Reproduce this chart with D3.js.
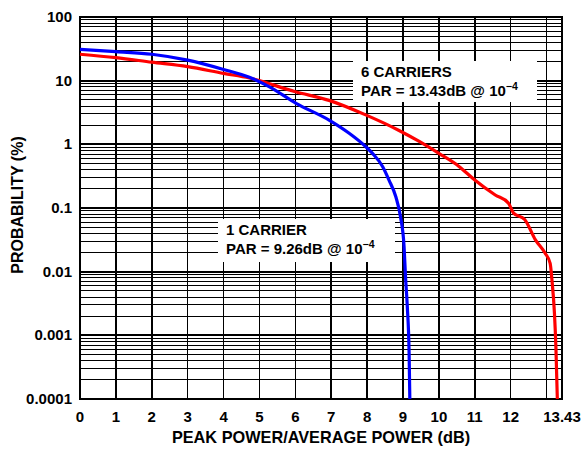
<!DOCTYPE html>
<html>
<head>
<meta charset="utf-8">
<script src="https://cdn.jsdelivr.net/npm/d3@7"></script>
<style>
  body { margin: 0; background: #fff; }
  text { font-family: "Liberation Sans", Arial, sans-serif; font-weight: bold; fill: #000; }
</style>
</head>
<body>
<div id="chart"></div>
<script>
// 1 carrier CCDF: [peak/avg dB, probability %]
const oneCarrier = [
    [0, 31], [1, 28.5], [2, 26], [3, 21], [4, 15], [4.72, 11.3], [5.28, 8.0],
    [6.02, 4.4], [6.94, 2.4], [7.5, 1.49], [7.96, 0.92], [8.15, 0.72], [8.43, 0.45],
    [8.61, 0.275], [8.8, 0.15], [8.93, 0.073], [9.03, 0.0245], [9.07, 0.0083],
    [9.12, 0.0028], [9.17, 0.00052], [9.19, 0.0001]
];
// 6 carriers CCDF
const sixCarriers = [
    [0, 26], [1, 23], [2, 19.5], [3, 16.6], [4, 13], [4.72, 11], [6, 6.7],
    [6.94, 4.9], [7.96, 2.9], [8.89, 1.65], [9.44, 1.12], [10, 0.72], [10.56, 0.45],
    [11, 0.275], [11.57, 0.16], [11.94, 0.119], [12.08, 0.083], [12.39, 0.066],
    [12.69, 0.0316], [12.96, 0.0195], [13.1, 0.0135], [13.15, 0.0074],
    [13.22, 0.0022], [13.26, 0.00066], [13.3, 0.0001]
];
const xTicks = [0, 1, 2, 3, 4, 5, 6, 7, 8, 9, 10, 11, 12, 13.43];
const xGrid = [1, 2, 3, 4, 5, 6, 7, 8, 9, 10, 11, 12, 13];
const yTicks = [0.0001, 0.001, 0.01, 0.1, 1, 10, 100];
const yTickLabels = ["0.0001", "0.001", "0.01", "0.1", "1", "10", "100"];

const width = 581, height = 449;
const margin = { top: 17, right: 19, bottom: 50, left: 80 };

const svg = d3.select("#chart").append("svg")
    .attr("width", width)
    .attr("height", height);

const x = d3.scaleLinear().domain([0, 13.43]).range([margin.left, width - margin.right]);
const y = d3.scaleLog().domain([0.0001, 100]).range([height - margin.bottom, margin.top]);

// minor + major horizontal grid lines
let yGrid = [];
for (let d = 0.0001; d < 100; d *= 10) {
    for (let k = 1; k < 10; k++) yGrid.push(+(d * k).toPrecision(3));
}
svg.append("g")
    .selectAll("line")
    .data(yGrid)
    .enter()
    .append("line")
    .attr("x1", x.range()[0]).attr("x2", x.range()[1])
    .attr("y1", d => y(d)).attr("y2", d => y(d))
    .attr("shape-rendering", "crispEdges")
    .style("stroke", "#000")
    .style("stroke-width", (d, i) => i % 9 === 0 ? 2 : 1);

svg.append("g")
    .selectAll("line")
    .data(xGrid)
    .enter()
    .append("line")
    .attr("x1", d => x(d)).attr("x2", d => x(d))
    .attr("y1", y.range()[0]).attr("y2", y.range()[1])
    .attr("shape-rendering", "crispEdges")
    .style("stroke", "#000")
    .style("stroke-width", 1.5);

// frame
svg.append("rect")
    .attr("x", x.range()[0]).attr("y", y.range()[1])
    .attr("width", x.range()[1] - x.range()[0])
    .attr("height", y.range()[0] - y.range()[1])
    .style("fill", "none")
    .style("stroke", "#000")
    .style("stroke-width", 2);

// labels with white boxes
function addLabel(bx, by, bw, bh, line1, line2) {
    svg.append("rect")
        .attr("x", bx).attr("y", by).attr("width", bw).attr("height", bh)
        .style("fill", "#fff");
    svg.append("text")
        .attr("x", bx + 8).attr("y", by + 16)
        .style("font-size", "15px")
        .text(line1);
    let t = svg.append("text")
        .attr("x", bx + 8).attr("y", by + 35)
        .style("font-size", "15px");
    t.append("tspan").text(line2);
    t.append("tspan").attr("dy", -6).style("font-size", "10.5px").text("\u22124");
}
addLabel(353, 61, 184, 41, "6 CARRIERS", "PAR = 13.43dB @ 10");
addLabel(218, 219, 177, 43, "1 CARRIER", "PAR = 9.26dB @ 10");

// curves
const line = d3.line()
    .x(d => x(d[0]))
    .y(d => y(d[1]))
    .curve(d3.curveMonotoneX);

svg.append("path")
    .datum(sixCarriers)
    .attr("d", line)
    .style("fill", "none")
    .style("stroke", "#ff0000")
    .style("stroke-width", 3.2);

svg.append("path")
    .datum(oneCarrier)
    .attr("d", line)
    .style("fill", "none")
    .style("stroke", "#0000ff")
    .style("stroke-width", 3.2);

// tick labels
svg.append("g")
    .selectAll("text")
    .data(xTicks)
    .enter()
    .append("text")
    .attr("x", d => x(d))
    .attr("y", 422)
    .style("font-size", "15px")
    .style("text-anchor", "middle")
    .text(d => d);

svg.append("g")
    .selectAll("text")
    .data(yTicks)
    .enter()
    .append("text")
    .attr("x", 72)
    .attr("y", d => y(d) + 5)
    .style("font-size", "15px")
    .style("text-anchor", "end")
    .text((d, i) => yTickLabels[i]);

// axis titles
svg.append("text")
    .attr("x", 321)
    .attr("y", 443)
    .style("font-size", "16.3px")
    .style("text-anchor", "middle")
    .text("PEAK POWER/AVERAGE POWER (dB)");

svg.append("text")
    .attr("transform", "translate(23, 205) rotate(-90)")
    .style("font-size", "16px")
    .style("text-anchor", "middle")
    .text("PROBABILITY (%)");
</script>
</body>
</html>
